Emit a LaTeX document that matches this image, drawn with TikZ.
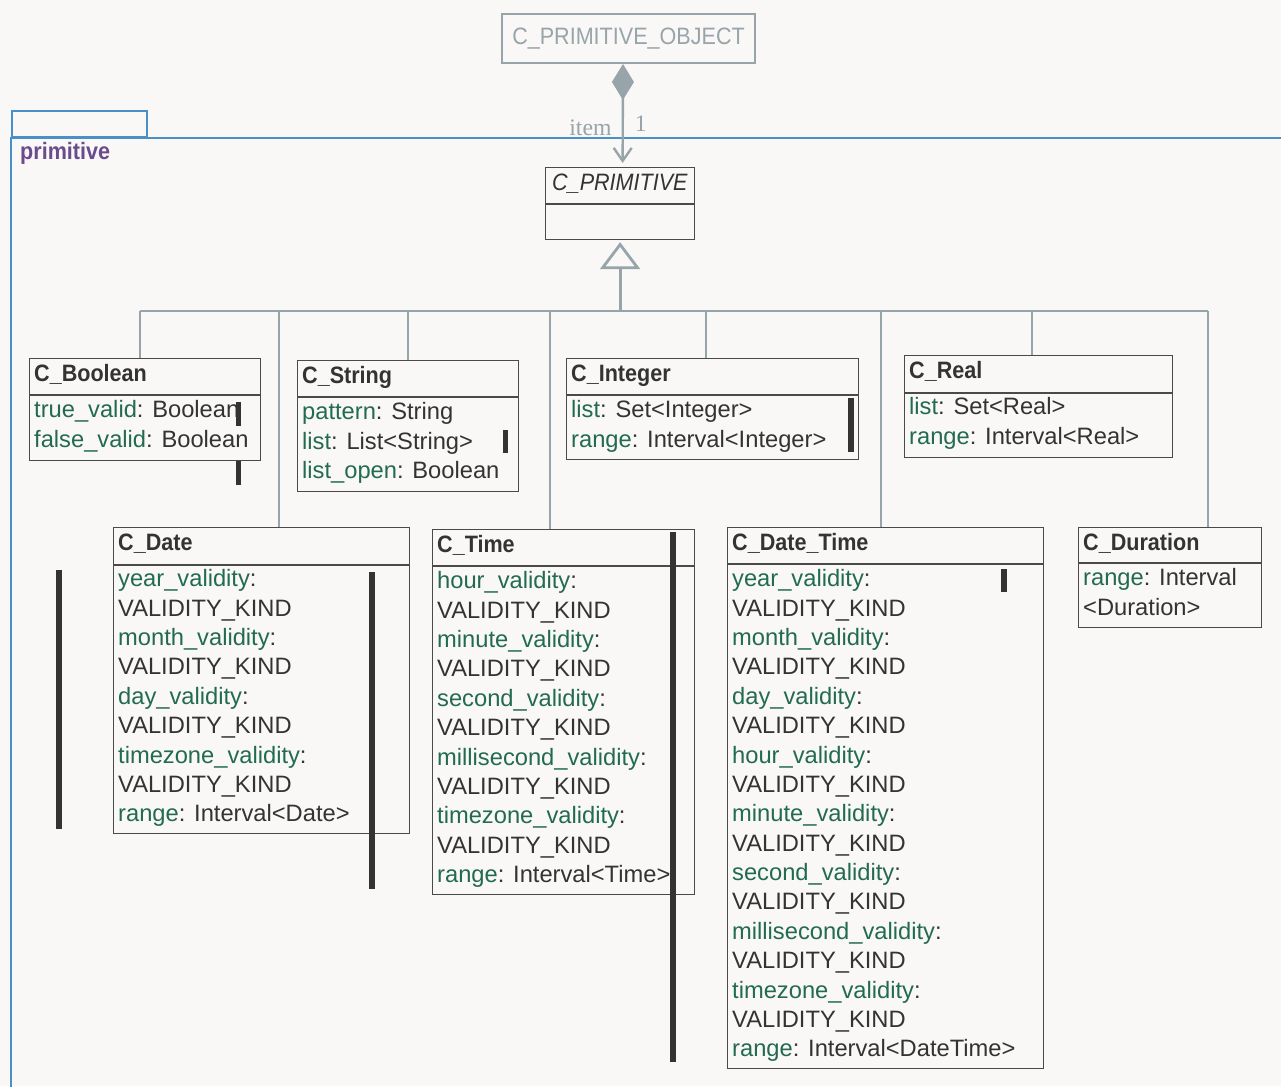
\documentclass[tikz,border=0pt]{standalone}
\usepackage{fontspec}
\setmainfont{Liberation Sans}
\newfontfamily\narrowfont[FakeStretch=0.91]{Liberation Sans}
\newfontfamily\rolefont{Liberation Serif}
\usetikzlibrary{arrows.meta}

\definecolor{paper}{HTML}{F9F8F7}
\definecolor{boxline}{HTML}{4A4A4A}
\definecolor{txt}{HTML}{333333}
\definecolor{attgreen}{HTML}{226B50}
\definecolor{conn}{HTML}{97A4AA}
\definecolor{pkgblue}{HTML}{4A90C8}
\definecolor{pkgname}{HTML}{6A4C8C}

\newcommand\umlsize{\fontsize{23.7}{29.375}\selectfont}
\newcommand\fld[1]{\textcolor{attgreen}{#1}}
\newcommand\vk[1]{\fld{#1\_validity}:\\ VALIDITY\_KIND}

\begin{document}
\begin{tikzpicture}[x=1pt, y=-1pt,
	cls/.style={draw=boxline, line width=1.2pt, anchor=north west, inner sep=0pt},
	div/.style={draw=boxline, line width=1.2pt},
	ttl/.style={anchor=base west, inner sep=0pt, text=txt, font=\narrowfont\bfseries\umlsize},
	att/.style={anchor=north west, inner sep=0pt, align=left, text=txt, font=\umlsize, execute at begin node=\strut},
	link/.style={draw=conn, line width=2.8pt},
	role/.style={inner sep=0pt, text=conn, font=\rolefont\umlsize},
	bar/.style={fill=txt}]

	\fill[paper] (0,0) rectangle (1281,1086);
	\useasboundingbox (0,0) rectangle (1281,1086);

	% package
	\draw[pkgblue, line width=2pt] (1283,138) -- (11,138) -- (11,1088);
	\node[draw=pkgblue, line width=2pt, anchor=north west, inner sep=0pt, minimum width=135, minimum height=26] (tab) at (11,110) {};
	\node[anchor=base west, inner sep=0pt, text=pkgname, font=\narrowfont\bfseries\umlsize] (pkg) at (20,160) {primitive};

	% owner and root class
	\node[cls, draw=conn, line width=2pt, text=conn, font=\narrowfont\umlsize, minimum width=253, minimum height=49] (cpo) at (501,13) {C\_PRIMITIVE\_OBJECT};
	\node[cls, minimum width=149, minimum height=72] (cprim) at (545,167) {};
	\node[ttl, font=\narrowfont\itshape\umlsize] at ([xshift=7,yshift=-23]cprim.north west) {C\_PRIMITIVE};
	\draw[div] ([yshift=-37]cprim.north west) -- ([yshift=-37]cprim.north east);

	% C_Boolean
	\node[cls, minimum width=231, minimum height=102] (cboolean) at (29,358) {};
	\node[ttl] at ([xshift=5,yshift=-23.5]cboolean.north west) {C\_Boolean};
	\draw[div] ([yshift=-37]cboolean.north west) -- ([yshift=-37]cboolean.north east);
	\node[att] at ([xshift=5,yshift=-42.4]cboolean.north west) {\fld{true\_valid}: Boolean\\ \fld{false\_valid}: Boolean};

	% C_String
	\node[cls, minimum width=221, minimum height=131] (cstring) at (297,360) {};
	\node[ttl] at ([xshift=5,yshift=-23.5]cstring.north west) {C\_String};
	\draw[div] ([yshift=-37]cstring.north west) -- ([yshift=-37]cstring.north east);
	\node[att] at ([xshift=5,yshift=-42.4]cstring.north west) {\fld{pattern}: String\\ \fld{list}: List<String>\\ \fld{list\_open}: Boolean};

	% C_Integer
	\node[cls, minimum width=292, minimum height=101] (cinteger) at (566,358) {};
	\node[ttl] at ([xshift=5,yshift=-23.5]cinteger.north west) {C\_Integer};
	\draw[div] ([yshift=-37]cinteger.north west) -- ([yshift=-37]cinteger.north east);
	\node[att] at ([xshift=5,yshift=-42.4]cinteger.north west) {\fld{list}: Set<Integer>\\ \fld{range}: Interval<Integer>};

	% C_Real
	\node[cls, minimum width=268, minimum height=102] (creal) at (904,355) {};
	\node[ttl] at ([xshift=5,yshift=-23.5]creal.north west) {C\_Real};
	\draw[div] ([yshift=-38]creal.north west) -- ([yshift=-38]creal.north east);
	\node[att] at ([xshift=5,yshift=-42.4]creal.north west) {\fld{list}: Set<Real>\\ \fld{range}: Interval<Real>};

	% C_Date
	\node[cls, minimum width=296, minimum height=306] (cdate) at (113,527) {};
	\node[ttl] at ([xshift=5,yshift=-23.5]cdate.north west) {C\_Date};
	\draw[div] ([yshift=-38]cdate.north west) -- ([yshift=-38]cdate.north east);
	\node[att] at ([xshift=5,yshift=-42.4]cdate.north west) {\vk{year}\\ \vk{month}\\ \vk{day}\\ \vk{timezone}\\ \fld{range}: Interval<Date>};

	% C_Time
	\node[cls, minimum width=262, minimum height=365] (ctime) at (432,529) {};
	\node[ttl] at ([xshift=5,yshift=-23.5]ctime.north west) {C\_Time};
	\draw[div] ([yshift=-37]ctime.north west) -- ([yshift=-37]ctime.north east);
	\node[att] at ([xshift=5,yshift=-42.4]ctime.north west) {\vk{hour}\\ \vk{minute}\\ \vk{second}\\ \vk{millisecond}\\ \vk{timezone}\\ \fld{range}: Interval<Time>};

	% C_Date_Time
	\node[cls, minimum width=316, minimum height=541] (cdatetime) at (727,527) {};
	\node[ttl] at ([xshift=5,yshift=-23.5]cdatetime.north west) {C\_Date\_Time};
	\draw[div] ([yshift=-37]cdatetime.north west) -- ([yshift=-37]cdatetime.north east);
	\node[att] at ([xshift=5,yshift=-42.4]cdatetime.north west) {\vk{year}\\ \vk{month}\\ \vk{day}\\ \vk{hour}\\ \vk{minute}\\ \vk{second}\\ \vk{millisecond}\\ \vk{timezone}\\ \fld{range}: Interval<DateTime>};

	% C_Duration
	\node[cls, minimum width=183, minimum height=100] (cduration) at (1078,527) {};
	\node[ttl] at ([xshift=5,yshift=-23]cduration.north west) {C\_Duration};
	\draw[div] ([yshift=-36]cduration.north west) -- ([yshift=-36]cduration.north east);
	\node[att] at ([xshift=5,yshift=-41.4]cduration.north west) {\fld{range}: Interval\\ <Duration>};

	% composition
	\draw[link, line width=2.4pt, {Diamond[length=36pt, width=22pt]}-{Straight Barb[length=13pt, width=18pt]}, shorten >=4pt]
		([xshift=-5.5]cpo.south) -- ([xshift=2.5]cprim.north)
		node[role, pos=0.695, anchor=base east, xshift=-10pt] {item}
		node[role, pos=0.657, anchor=base west, xshift=11pt] {1};

	% generalisation tree
	\coordinate (b1) at (140,311);
	\coordinate (b2) at (279,311);
	\coordinate (b3) at (408,311);
	\coordinate (b4) at (550,311);
	\coordinate (b5) at (706,311);
	\coordinate (b6) at (881,311);
	\coordinate (b7) at (1032,311);
	\coordinate (b8) at (1208,311);
	\draw[link] (b1) -- (b8);
	\foreach \c/\b in {cboolean/b1, cdate/b2, cstring/b3, ctime/b4, cinteger/b5, cdatetime/b6, creal/b7, cduration/b8}
		\draw[link] (\b) -- (\c.north -| \b);
	\draw[link, -{Triangle[open, length=27pt, width=40pt]}, shorten >=2pt] (cprim.south |- b1) -- (cprim.south);

	% dark bars
	\fill[bar] (236,402) rectangle (241,426);
	\fill[bar] (236,461) rectangle (241,485);
	\fill[bar] (503,430) rectangle (508,453);
	\fill[bar] (848,398) rectangle (854,452);
	\fill[bar] (56,570) rectangle (62,829);
	\fill[bar] (369,572) rectangle (375,889);
	\fill[bar] (670,532) rectangle (676,1062);
	\fill[bar] (1001,569) rectangle (1007,592);
\end{tikzpicture}
\end{document}
